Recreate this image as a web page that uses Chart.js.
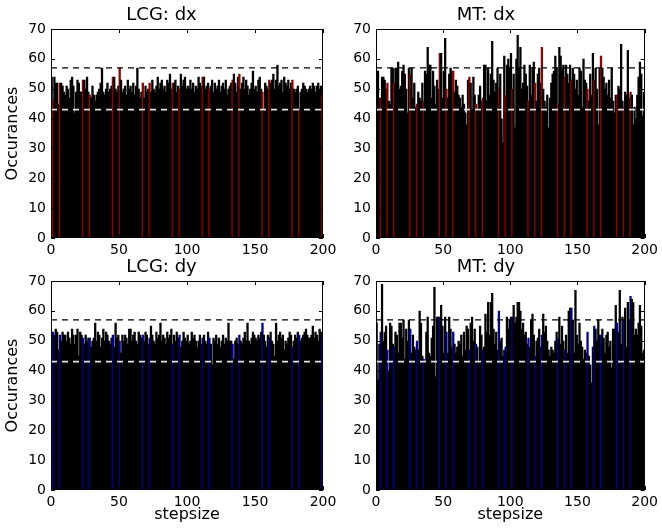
<!DOCTYPE html>
<html>
<head>
<meta charset="utf-8">
<script src="https://cdn.jsdelivr.net/npm/chart.js@4.4.0/dist/chart.umd.min.js"></script>
<style>
  html, body { margin: 0; padding: 0; background: #fff; }
  body { width: 662px; height: 528px; position: relative; overflow: hidden; }
  canvas { position: absolute; }
</style>
</head>
<body>
<canvas id="lcgdx" width="345" height="260" style="left:0;top:0"></canvas>
<canvas id="mtdx" width="337" height="260" style="left:325px;top:0"></canvas>
<canvas id="lcgdy" width="345" height="276" style="left:0;top:252px"></canvas>
<canvas id="mtdy" width="337" height="276" style="left:325px;top:252px"></canvas>
<script>
// histogram counts per stepsize bin (0..199)
const lcgDx = [
  54,46,54,52,52,45,52,52,51,49,48,51,50,47,53,54,51,42,49,53,
  52,49,49,53,53,50,54,49,48,47,51,48,46,48,49,50,52,57,49,48,
  50,52,49,50,51,54,54,50,49,51,57,53,49,50,51,48,53,50,51,49,
  52,48,51,57,50,47,49,52,47,51,49,50,52,49,53,50,49,51,54,50,
  52,53,50,51,49,53,52,55,50,52,52,53,49,51,50,55,51,53,54,50,
  51,50,53,50,52,49,51,50,54,52,51,54,54,50,51,52,50,51,53,49,
  52,50,51,53,49,51,52,50,53,48,50,51,52,53,55,52,49,54,55,50,
  52,54,50,53,51,48,50,52,56,50,51,49,53,54,50,49,43,52,51,50,
  53,52,53,55,50,53,58,51,52,53,49,54,52,51,53,50,52,53,50,49,
  50,51,43,49,50,52,51,50,49,50,51,50,52,51,49,51,52,50,51,48
];
const mtDx = [
  49,56,47,47,54,54,53,50,52,46,45,57,57,52,57,57,59,50,51,56,
  58,55,50,42,57,55,57,47,52,44,45,49,47,46,52,46,56,55,64,58,
  58,47,56,51,45,53,50,62,62,47,56,67,50,47,55,57,56,56,49,53,
  51,48,47,44,48,45,42,38,53,54,52,43,54,48,45,43,48,51,46,47,
  58,58,46,57,48,55,66,53,49,52,57,50,55,40,32,61,48,58,60,57,
  62,50,55,37,60,68,57,64,50,52,58,55,51,46,58,48,57,59,52,46,
  55,57,52,64,50,46,44,48,37,47,52,55,56,61,57,45,64,61,57,58,
  54,58,55,52,58,53,57,55,50,53,48,57,56,44,60,53,52,50,46,55,
  48,62,53,57,50,38,57,61,57,54,50,52,48,53,47,57,46,42,48,48,
  51,50,65,46,44,49,48,63,47,49,48,38,44,40,48,54,59,55,41,49
];
const lcgDy = [
  51,53,52,54,53,47,52,50,53,52,52,50,53,51,49,54,52,49,52,54,
  45,53,52,51,49,52,50,51,51,48,50,51,56,50,53,52,48,51,54,50,
  53,52,50,49,51,52,48,56,51,52,50,46,52,50,52,51,49,54,54,50,
  52,53,50,49,53,52,51,52,50,53,52,49,51,55,52,50,49,53,51,52,
  56,50,52,51,49,53,51,52,54,49,52,50,53,51,52,48,50,53,51,50,
  52,49,50,53,51,52,50,48,50,52,49,51,52,50,49,53,51,49,42,51,
  50,52,49,51,48,50,52,49,51,50,56,50,50,49,44,50,51,49,52,50,
  49,51,53,50,56,50,49,51,53,52,51,50,52,51,53,56,52,50,48,52,
  51,53,50,49,45,56,50,52,53,51,52,47,50,49,51,53,52,48,50,52,
  51,53,52,50,51,52,53,54,52,51,51,52,55,51,53,52,50,54,53,51
];
const mtDy = [
  56,37,49,53,69,50,53,55,47,40,56,55,49,48,53,52,46,56,56,51,
  57,44,54,50,57,54,46,52,48,47,50,47,60,56,45,44,43,53,58,46,
  45,51,55,68,38,58,58,58,62,55,46,58,53,46,58,54,48,53,49,46,
  48,50,49,52,45,53,47,55,54,47,56,58,50,54,49,48,43,55,52,47,
  48,59,53,63,52,63,66,54,49,53,47,60,50,51,45,47,48,58,54,57,
  58,58,62,56,58,63,63,60,54,56,52,53,49,51,48,57,59,52,45,50,
  51,54,48,52,59,53,55,50,47,45,48,47,46,50,53,51,58,49,55,50,
  47,52,46,60,61,61,57,46,67,52,49,56,50,48,44,47,46,53,45,42,
  36,48,55,54,50,57,52,52,54,51,46,52,53,48,50,41,54,54,62,56,
  53,67,49,58,57,61,48,63,57,65,64,63,52,54,52,56,62,55,46,47
];

// bins that are drawn in colour
const lcgMarked = [1,6,23,28,45,50,67,72,89,94,111,116,133,138,155,160,177,182,199];
const mtMarked = [3,8,13,25,30,35,47,52,57,69,74,79,91,96,101,113,118,123,135,140,145,157,162,167,179,184,189];

// expected band
const upperLimit = 57;
const lowerLimit = 43;
const xRange = [0, 200];
const yTicks = [0, 10, 20, 30, 40, 50, 60, 70];
const xTicks = [0, 50, 100, 150, 200];

const FONT = "'DejaVu Sans', 'Bitstream Vera Sans', sans-serif";

// matplotlib-ish frame with inward ticks on every side
const frameTicks = {
  id: 'frameTicks',
  afterDraw(chart) {
    const {ctx, chartArea: a, scales: {x, y}} = chart;
    ctx.save();
    ctx.strokeStyle = '#000';
    ctx.lineWidth = 1;
    ctx.beginPath();
    xTicks.forEach(v => {
      const px = Math.round(x.getPixelForValue(v)) + 0.5;
      ctx.moveTo(px, a.top); ctx.lineTo(px, a.top + 4);
      ctx.moveTo(px, a.bottom); ctx.lineTo(px, a.bottom - 4);
    });
    yTicks.forEach(v => {
      const py = Math.round(y.getPixelForValue(v)) + 0.5;
      ctx.moveTo(a.left, py); ctx.lineTo(a.left + 4, py);
      ctx.moveTo(a.right, py); ctx.lineTo(a.right - 4, py);
    });
    ctx.stroke();
    ctx.strokeRect(Math.round(a.left) + 0.5, Math.round(a.top) + 0.5,
      Math.round(a.right - a.left) - 1, Math.round(a.bottom - a.top) - 1);
    ctx.restore();
  }
};

function drawHist(id, title, counts, marked, markColor, cfg) {
  const points = counts.map((c, i) => ({x: i + 0.5, y: c}));
  new Chart(document.getElementById(id), {
    type: 'bar',
    data: {
      datasets: [
        {
          data: points,
          backgroundColor: c => marked.includes(c.dataIndex) ? markColor : '#000',
          borderWidth: 0,
          inflateAmount: 0,
          barPercentage: 1.7,
          categoryPercentage: 1,
          order: 2
        },
        {
          type: 'line',
          data: [{x: xRange[0], y: upperLimit}, {x: xRange[1], y: upperLimit}],
          borderColor: '#000',
          borderWidth: 1.2,
          borderDash: [6, 5],
          pointRadius: 0,
          order: 1
        },
        {
          type: 'line',
          data: [{x: xRange[0], y: lowerLimit}, {x: xRange[1], y: lowerLimit}],
          borderColor: 'rgb(225,225,225)',
          borderWidth: 1.6,
          borderDash: [6, 5],
          pointRadius: 0,
          order: 1
        }
      ]
    },
    options: {
      responsive: false,
      animation: false,
      events: [],
      layout: { padding: { left: 0, right: cfg.padRight, top: 0, bottom: 0 } },
      plugins: {
        legend: { display: false },
        tooltip: { enabled: false },
        title: {
          display: true,
          text: title,
          color: '#000',
          font: { family: FONT, size: 18, weight: 'normal' },
          padding: { top: 5, bottom: 2.4 }
        }
      },
      scales: {
        x: {
          type: 'linear',
          min: xRange[0], max: xRange[1],
          offset: false,
          grid: { display: false, drawTicks: false },
          border: { display: false },
          afterBuildTicks: s => { s.ticks = xTicks.map(v => ({value: v})); },
          ticks: { color: '#000', font: { family: FONT, size: 14 }, padding: 4, maxRotation: 0, autoSkip: false },
          title: {
            display: cfg.xTitle,
            text: 'stepsize',
            color: '#000',
            font: { family: FONT, size: 16 },
            padding: { top: 0, bottom: 4 }
          },
          afterFit: s => { s.height = cfg.xAxisH; }
        },
        y: {
          min: 0, max: 70,
          grid: { display: false, drawTicks: false },
          border: { display: false },
          afterBuildTicks: s => { s.ticks = yTicks.map(v => ({value: v})); },
          ticks: { color: '#000', font: { family: FONT, size: 14 }, padding: 5 },
          title: {
            display: cfg.yTitle,
            text: 'Occurances',
            color: '#000',
            font: { family: FONT, size: 16 },
            padding: { top: 3, bottom: 0 }
          },
          afterFit: s => { s.width = 51; }
        }
      }
    },
    plugins: [frameTicks]
  });
}

const red = 'rgb(150,0,0)';
const blue = 'rgb(0,0,150)';

drawHist('lcgdx', 'LCG: dx', lcgDx, lcgMarked, red, { padRight: 22, xAxisH: 22, xTitle: false, yTitle: true });
drawHist('mtdx', 'MT: dx', mtDx, mtMarked, red, { padRight: 15, xAxisH: 22, xTitle: false, yTitle: false });
drawHist('lcgdy', 'LCG: dy', lcgDy, lcgMarked, blue, { padRight: 22, xAxisH: 38, xTitle: true, yTitle: true });
drawHist('mtdy', 'MT: dy', mtDy, mtMarked, blue, { padRight: 15, xAxisH: 38, xTitle: true, yTitle: false });
</script>
</body>
</html>
